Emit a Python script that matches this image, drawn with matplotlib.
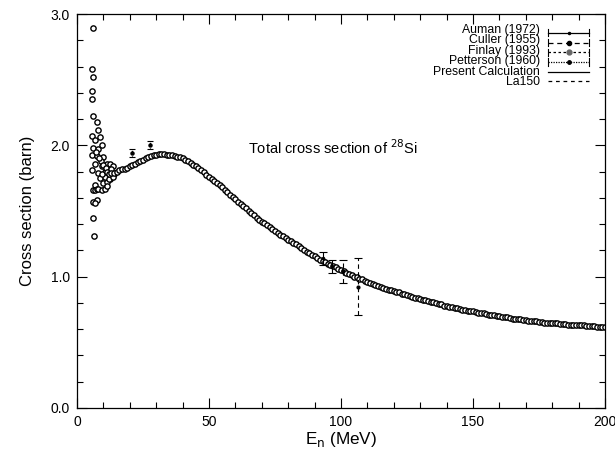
import matplotlib
matplotlib.use("Agg")
import matplotlib.pyplot as plt
from matplotlib.ticker import MultipleLocator, FormatStrFormatter

plt.rcParams['font.family'] = ['Liberation Sans', 'DejaVu Sans']

# ---------------- data ----------------
# Finlay (1993) - low-energy resonance region
finlay_low_E = [5.9, 5.7, 5.9, 5.7, 5.7, 6.2, 7.5, 8.1, 5.7, 6.9, 8.7, 6.2, 8.1, 9.4,
                5.7, 7.5, 10.0, 6.9, 9.4, 11.3, 5.7, 8.1, 10.6, 12.5, 13.8, 11.9,
                13.1, 8.7, 10.0, 11.3, 12.5, 6.9, 6.2, 6.9, 7.5, 8.1, 9.4, 10.6, 11.3,
                6.2, 7.5, 7.0, 6.0, 6.6, 9.0, 10.0, 11.0, 12.0, 13.0, 14.0, 10.5,
                12.0, 13.5, 9.5, 11.5, 7.2, 8.4]
finlay_low_s = [2.89, 2.58, 2.52, 2.41, 2.35, 2.22, 2.18, 2.12, 2.07, 2.04, 2.06, 1.98,
                1.97, 2.00, 1.93, 1.92, 1.91, 1.86, 1.84, 1.86, 1.81, 1.79, 1.80, 1.86,
                1.84, 1.76, 1.77, 1.75, 1.71, 1.72, 1.74, 1.70, 1.66, 1.66, 1.665, 1.67,
                1.66, 1.67, 1.69, 1.57, 1.58, 1.56, 1.445, 1.31, 1.88, 1.85, 1.83, 1.80,
                1.82, 1.78, 1.76, 1.74, 1.76, 1.78, 1.80, 1.95, 1.90]

# Finlay (1993) - smooth region, 12..200 MeV in 1 MeV steps
finlay_E = list(range(12, 201))
finlay_s = [1.78, 1.79, 1.79, 1.80, 1.81, 1.82, 1.82, 1.83, 1.84, 1.85, 1.86, 1.87, 1.88,
            1.89, 1.90, 1.91, 1.92, 1.925, 1.93,
            1.935, 1.935, 1.935, 1.93, 1.93, 1.925, 1.92, 1.915, 1.91, 1.90,
            1.89, 1.88, 1.865, 1.85, 1.84, 1.825, 1.81, 1.795, 1.775, 1.76,
            1.745, 1.73, 1.71, 1.695, 1.68, 1.66, 1.645, 1.625, 1.61, 1.59,
            1.57, 1.555, 1.535, 1.52, 1.50, 1.485, 1.47, 1.45, 1.435, 1.42,
            1.405, 1.39, 1.375, 1.365, 1.35, 1.335, 1.32, 1.31, 1.295, 1.28,
            1.27, 1.255, 1.245, 1.23, 1.215, 1.205, 1.19, 1.18, 1.165, 1.155,
            1.145, 1.13, 1.12, 1.11, 1.10, 1.09, 1.08, 1.07, 1.06, 1.05,
            1.04, 1.03, 1.02, 1.01, 1.00, 0.995, 0.985, 0.98, 0.97, 0.96,
            0.95, 0.945, 0.935, 0.93, 0.92, 0.915, 0.905, 0.90, 0.895, 0.89,
            0.885, 0.88, 0.87, 0.865, 0.86, 0.855, 0.845, 0.84, 0.835, 0.83,
            0.825, 0.82, 0.815, 0.81, 0.805, 0.80, 0.795, 0.79, 0.78, 0.775,
            0.77, 0.77, 0.765, 0.76, 0.755, 0.75, 0.745, 0.74, 0.74, 0.735,
            0.73, 0.725, 0.72, 0.72, 0.715, 0.71, 0.71, 0.705, 0.70, 0.70,
            0.695, 0.69, 0.69, 0.685, 0.68, 0.68, 0.68, 0.675, 0.67, 0.67,
            0.665, 0.665, 0.66, 0.66, 0.655, 0.655, 0.65, 0.65, 0.65, 0.65,
            0.645, 0.645, 0.64, 0.64, 0.64, 0.635, 0.635, 0.635, 0.63, 0.63,
            0.63, 0.63, 0.625, 0.625, 0.625, 0.625, 0.62, 0.62, 0.62, 0.62]

auman_E = [93.0, 96.5]
auman_s = [1.14, 1.08]
auman_err = [0.05, 0.05]

culler_E = [100.9, 106.5]
culler_s = [1.04, 0.925]
culler_err = [0.087, 0.22]

petterson_E = [20.7, 27.7]
petterson_s = [1.945, 2.00]
petterson_err = [0.03, 0.03]

calc_E = [10, 15, 20, 25, 30, 35, 40, 50, 60, 70, 80, 90, 100, 120, 140, 160, 180, 200]
calc_s = [1.75, 1.79, 1.84, 1.89, 1.93, 1.93, 1.90, 1.76, 1.59, 1.42, 1.28, 1.155,
          1.05, 0.89, 0.775, 0.70, 0.65, 0.62]
la150_E = [10, 15, 20, 25, 30, 35, 40, 50, 60, 70, 80, 90, 100, 120, 140, 150]
la150_s = [1.76, 1.80, 1.84, 1.89, 1.92, 1.93, 1.90, 1.76, 1.59, 1.42, 1.28, 1.155,
           1.05, 0.89, 0.775, 0.735]

legend_labels = ["Auman (1972)", "Culler (1955)", "Finlay (1993)", "Petterson (1960)",
                 "Present Calculation", "La150"]

# ---------------- figure ----------------
fig = plt.figure(figsize=(6.15, 4.55), dpi=100)
ax = fig.add_axes([0.1252, 0.1033, 0.8585, 0.8659])

ax.plot(calc_E, calc_s, color='k', lw=1.0, ls='-')
ax.plot(la150_E, la150_s, color='k', lw=1.0, ls=(0, (3, 3)))

mk = dict(ls='none', marker='o', ms=3.8, mfc='white', mec='k', mew=1.0)
ax.plot(finlay_low_E, finlay_low_s, **mk)
ax.plot(finlay_E, finlay_s, **mk)

e1 = ax.errorbar(auman_E, auman_s, yerr=auman_err, fmt='.', color='k', ms=3,
                 elinewidth=0.8, capsize=3, capthick=0.8)
e2 = ax.errorbar(culler_E, culler_s, yerr=culler_err, fmt='.', color='k', ms=4,
                 elinewidth=0.8, capsize=3, capthick=0.8)
e2[2][0].set_linestyle((0, (4, 3)))
e3 = ax.errorbar(petterson_E, petterson_s, yerr=petterson_err, fmt='o', color='k',
                 ms=2.2, elinewidth=0.8, capsize=2.5, capthick=0.8)
e3[2][0].set_linestyle((0, (1, 1.5)))

ax.set_xlim(0, 200)
ax.set_ylim(0, 3.0)
ax.xaxis.set_major_locator(MultipleLocator(50))
ax.xaxis.set_minor_locator(MultipleLocator(10))
ax.yaxis.set_major_locator(MultipleLocator(1.0))
ax.yaxis.set_minor_locator(MultipleLocator(0.2))
ax.yaxis.set_major_formatter(FormatStrFormatter('%.1f'))
ax.tick_params(which='both', direction='in', top=True, right=True, labelsize=10,
               width=0.8)
ax.tick_params(which='major', length=7, pad=5)
ax.tick_params(which='minor', length=4)
for s in ax.spines.values():
    s.set_linewidth(0.9)

ax.set_xlabel(r"E$_\mathrm{n}$ (MeV)", fontsize=12.3, labelpad=1)
ax.set_ylabel("Cross section (barn)", fontsize=12, labelpad=11)

ax.text(64.8, 1.98, r"Total cross section of $^{28}$Si", fontsize=10.5, ha='left',
        va='center')

# gnuplot-style key, upper right: one right-aligned text block + samples
tx = 0.877
lx0, lx1 = 0.892, 0.970
y0 = 0.952
dy = 0.0246
n = len(legend_labels)
ax.text(tx, y0 - (n - 1) / 2 * dy + 0.003, "\n".join(legend_labels),
        transform=ax.transAxes, ha='right', va='center', multialignment='right',
        fontsize=8.8, linespacing=0.84)
styles = [('-', '.', 3), ((0, (4, 3)), 'o', 3), ((0, (2, 2)), 'o', 3.5),
          ((0, (1, 1)), 'o', 2.5), ('-', None, 0), ((0, (3, 3)), None, 0)]
for i, (ls, m, ms) in enumerate(styles):
    y = y0 - i * dy
    ax.plot([lx0, lx1], [y, y], transform=ax.transAxes, color='k', lw=0.9, ls=ls,
            clip_on=False)
    if m is not None:
        ax.plot([lx0, lx0], [y - 0.009, y + 0.009], transform=ax.transAxes, color='k',
                lw=0.8)
        ax.plot([lx1, lx1], [y - 0.009, y + 0.009], transform=ax.transAxes, color='k',
                lw=0.8)
        c = '0.4' if i == 2 else 'k'
        ax.plot([(lx0 + lx1) / 2], [y], transform=ax.transAxes, ls='none', marker=m,
                ms=ms, mfc=c, mec=c)

fig.savefig("out.png", dpi=100)
